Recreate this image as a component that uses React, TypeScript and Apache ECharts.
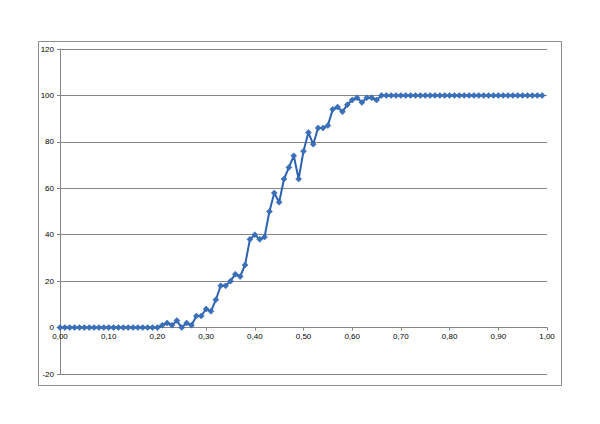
import React, { useEffect, useRef } from "react";
import * as echarts from "echarts";

// y-values sampled at x = 0.00, 0.01, ..., 0.99
const yValues: number[] = [
  0, 0, 0, 0, 0, 0, 0, 0, 0, 0,
  0, 0, 0, 0, 0, 0, 0, 0, 0, 0,
  0, 1, 2, 1, 3, 0, 2, 1, 5, 5,
  8, 7, 12, 18, 18, 20, 23, 22, 27, 38,
  40, 38, 39, 50, 58, 54, 64, 69, 74, 64,
  76, 84, 79, 86, 86, 87, 94, 95, 93, 96,
  98, 99, 97, 99, 99, 98, 100, 100, 100, 100,
  100, 100, 100, 100, 100, 100, 100, 100, 100, 100,
  100, 100, 100, 100, 100, 100, 100, 100, 100, 100,
  100, 100, 100, 100, 100, 100, 100, 100, 100, 100,
];
const xStep = 0.01;
const xTicks = { min: 0, max: 1, interval: 0.1 };
const yTicks = { min: -20, max: 120, interval: 20 };

export default function App() {
  const ref = useRef<HTMLDivElement>(null);
  useEffect(() => {
    if (!ref.current) return;
    const chart = echarts.init(ref.current, undefined, { renderer: "svg" });
    const data = yValues.map((v, i) => [Number((i * xStep).toFixed(2)), v]);
    const font = "'Liberation Sans', Arial, sans-serif";
    const top = 49;
    const bottom = 50;
    const plotH = 424 - top - bottom;
    const zeroY = top + (plotH * (yTicks.max - 0)) / (yTicks.max - yTicks.min);
    chart.setOption({
      animation: false,
      backgroundColor: "#ffffff",
      grid: [
        { left: 60, right: 53, top, bottom },
        { left: 60, right: 53, top: zeroY - 1, height: 1 },
      ],
      graphic: [
        {
          type: "rect",
          shape: { x: 38.5, y: 41.5, width: 523, height: 344 },
          style: { fill: "none", stroke: "#8c8c8c", lineWidth: 1 },
          silent: true,
        },
      ],
      xAxis: [
        {
          type: "value",
          gridIndex: 0,
          min: xTicks.min,
          max: xTicks.max,
          interval: xTicks.interval,
          axisLine: { show: false },
          axisTick: { show: false },
          splitLine: { show: false },
          axisLabel: { show: false },
        },
        {
          type: "value",
          gridIndex: 1,
          position: "bottom",
          min: xTicks.min,
          max: xTicks.max,
          interval: xTicks.interval,
          axisLine: { show: true, onZero: false, lineStyle: { color: "#868686", width: 1 } },
          axisTick: { show: true, length: 3, lineStyle: { color: "#868686" } },
          splitLine: { show: false },
          axisLabel: {
            margin: 5,
            fontSize: 8,
            fontFamily: font,
            color: "#000",
            formatter: (v: number) => v.toFixed(2).replace(".", ","),
          },
        },
      ],
      yAxis: [
        {
          type: "value",
          gridIndex: 0,
          min: yTicks.min,
          max: yTicks.max,
          interval: yTicks.interval,
          axisLine: { show: true, lineStyle: { color: "#868686", width: 1 } },
          axisTick: { show: true, length: 3, inside: false, lineStyle: { color: "#868686" } },
          splitLine: { show: true, lineStyle: { color: "#868686", width: 1 } },
          axisLabel: {
            margin: 6,
            fontSize: 8,
            fontFamily: font,
            color: "#000",
          },
        },
        {
          type: "value",
          gridIndex: 1,
          min: 0,
          max: 1,
          show: false,
        },
      ],
      series: [
        {
          type: "line",
          xAxisIndex: 0,
          yAxisIndex: 0,
          data,
          symbol: "diamond",
          symbolSize: 6,
          lineStyle: { color: "#2C62B0", width: 2 },
          itemStyle: { color: "#3A70BA", borderColor: "#2C62B0", borderWidth: 0.5 },
        },
      ],
    });
    return () => chart.dispose();
  }, []);
  return (
    <div
      ref={ref}
      style={{ position: "fixed", left: 0, top: 0, width: 600, height: 424 }}
    />
  );
}
